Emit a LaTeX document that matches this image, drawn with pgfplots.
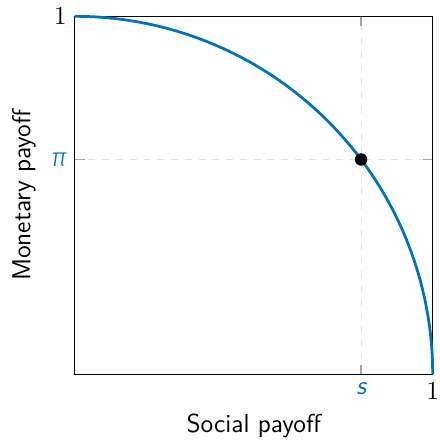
\documentclass[border=0pt]{standalone}
\usepackage{pgfplots}
\pgfplotsset{compat=1.18}
\usepackage{fontspec}
\newfontfamily\pifont{Fira Sans Light}
\definecolor{cblue}{RGB}{0,114,189}
\begin{document}
\begin{tikzpicture}
\begin{axis}[
  width=156pt, height=156pt, scale only axis,
  xmin=0, xmax=1, ymin=0, ymax=1,
  xtick={0.8,1}, ytick={0.6,1},
  xticklabels={{\textcolor{cblue}{\sffamily\itshape s}},1},
  yticklabels={{\textcolor{cblue}{\pifont\itshape π}},1},
  ticklabel style={font=\fontsize{11.3}{13}\selectfont},
  xticklabel style={inner xsep=0pt},
  label style={font=\fontsize{11.3}{13}\selectfont\sffamily},
  xlabel style={inner ysep=0pt, yshift=-2.6pt},
  major tick style={gray!70, line width=0.6pt},
  tick align=inside,
  xmajorgrids, ymajorgrids,
  grid style={dashed, gray!20, line width=0.5pt},
  xlabel={Social payoff},
  ylabel={Monetary payoff},
  axis line style={line width=0.5pt},
  clip=false,
]
\addplot[cblue, line width=1.2pt, smooth] coordinates {
(0,1) (0.05234,0.99863) (0.10453,0.99452) (0.15643,0.98769) (0.20791,0.97815)
(0.25882,0.96593) (0.30902,0.95106) (0.35837,0.93358) (0.40674,0.91355)
(0.45399,0.89101) (0.5,0.86603) (0.54464,0.83867) (0.58779,0.80902)
(0.62932,0.77715) (0.66913,0.74314) (0.70711,0.70711) (0.74314,0.66913)
(0.77715,0.62932) (0.80902,0.58779) (0.83867,0.54464) (0.86603,0.5)
(0.89101,0.45399) (0.91355,0.40674) (0.93358,0.35837) (0.95106,0.30902)
(0.96593,0.25882) (0.97815,0.20791) (0.98769,0.15643) (0.99452,0.10453)
(0.99863,0.05234) (1,0)
};
\addplot[only marks, mark=*, mark size=2.5pt, black] coordinates {(0.8,0.6)};
\end{axis}
\path ([xshift=-2pt,yshift=-1.5pt]current bounding box.south west);
\end{tikzpicture}
\end{document}
